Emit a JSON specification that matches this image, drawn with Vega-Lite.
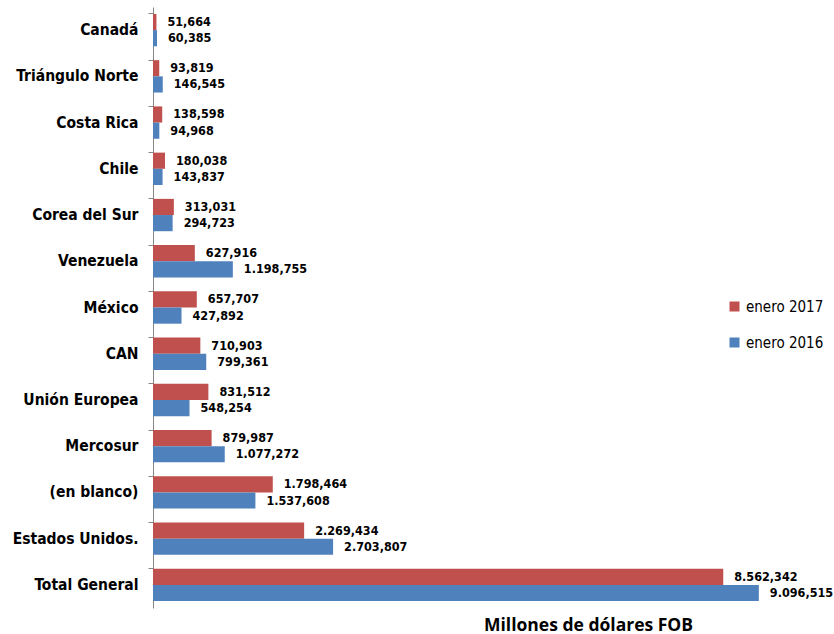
{
  "$schema": "https://vega.github.io/schema/vega-lite/v6.json",
  "width": 666,
  "height": 601,
  "autosize": {"type": "none"},
  "padding": {"left": 153, "top": 7, "right": 15, "bottom": 26},
  "background": "white",
  "config": {
    "view": {"stroke": null},
    "locale": {"number": {"decimal": ",", "thousands": ".", "grouping": [3], "currency": ["$", ""]}}
  },
  "data": {
    "values": [
      {"region": "Canadá", "periodo": "enero 2017", "valor": 51.664},
      {"region": "Canadá", "periodo": "enero 2016", "valor": 60.385},
      {"region": "Triángulo Norte", "periodo": "enero 2017", "valor": 93.819},
      {"region": "Triángulo Norte", "periodo": "enero 2016", "valor": 146.545},
      {"region": "Costa Rica", "periodo": "enero 2017", "valor": 138.598},
      {"region": "Costa Rica", "periodo": "enero 2016", "valor": 94.968},
      {"region": "Chile", "periodo": "enero 2017", "valor": 180.038},
      {"region": "Chile", "periodo": "enero 2016", "valor": 143.837},
      {"region": "Corea del Sur", "periodo": "enero 2017", "valor": 313.031},
      {"region": "Corea del Sur", "periodo": "enero 2016", "valor": 294.723},
      {"region": "Venezuela", "periodo": "enero 2017", "valor": 627.916},
      {"region": "Venezuela", "periodo": "enero 2016", "valor": 1198.755},
      {"region": "México", "periodo": "enero 2017", "valor": 657.707},
      {"region": "México", "periodo": "enero 2016", "valor": 427.892},
      {"region": "CAN", "periodo": "enero 2017", "valor": 710.903},
      {"region": "CAN", "periodo": "enero 2016", "valor": 799.361},
      {"region": "Unión Europea", "periodo": "enero 2017", "valor": 831.512},
      {"region": "Unión Europea", "periodo": "enero 2016", "valor": 548.254},
      {"region": "Mercosur", "periodo": "enero 2017", "valor": 879.987},
      {"region": "Mercosur", "periodo": "enero 2016", "valor": 1077.272},
      {"region": "(en blanco)", "periodo": "enero 2017", "valor": 1798.464},
      {"region": "(en blanco)", "periodo": "enero 2016", "valor": 1537.608},
      {"region": "Estados Unidos.", "periodo": "enero 2017", "valor": 2269.434},
      {"region": "Estados Unidos.", "periodo": "enero 2016", "valor": 2703.807},
      {"region": "Total General", "periodo": "enero 2017", "valor": 8562.342},
      {"region": "Total General", "periodo": "enero 2016", "valor": 9096.515}
    ]
  },
  "encoding": {
    "y": {
      "field": "region",
      "type": "nominal",
      "sort": null,
      "scale": {"paddingInner": 0.3, "paddingOuter": 0.15},
      "axis": {
        "title": null,
        "bandPosition": 0,
        "domainColor": "#868686",
        "tickColor": "#868686",
        "tickSize": 5,
        "labelPadding": 10,
        "labelFont": "DejaVu Sans Condensed, sans-serif",
        "labelFontSize": 15.5,
        "labelFontWeight": "bold",
        "labelColor": "#000000"
      }
    },
    "yOffset": {"field": "periodo", "type": "nominal", "sort": ["enero 2017", "enero 2016"]},
    "x": {
      "field": "valor",
      "type": "quantitative",
      "scale": {"domain": [0, 10000], "nice": false},
      "axis": {
        "title": "Millones de dólares FOB",
        "labels": false,
        "ticks": false,
        "domain": false,
        "grid": false,
        "titleFont": "Open Sans",
        "titleFontSize": 17.5,
        "titleFontWeight": "bold",
        "titleColor": "#000000",
        "titleX": 435,
        "titleY": 22,
        "titleBaseline": "alphabetic"
      }
    }
  },
  "layer": [
    {
      "mark": {"type": "bar"},
      "encoding": {
        "color": {
          "field": "periodo",
          "type": "nominal",
          "scale": {"domain": ["enero 2017", "enero 2016"], "range": ["#C0504D", "#4F81BD"]},
          "legend": {
            "title": null,
            "orient": "none",
            "legendX": 574,
            "legendY": 292,
            "symbolType": "square",
            "symbolSize": 100,
            "symbolStrokeWidth": 0,
            "rowPadding": 20,
            "labelFont": "DejaVu Sans Condensed, sans-serif",
            "labelFontSize": 15,
            "labelColor": "#000000",
            "labelOffset": 4
          }
        }
      }
    },
    {
      "mark": {
        "type": "text",
        "align": "left",
        "baseline": "middle",
        "dx": 11,
        "font": "DejaVu Sans Condensed, sans-serif",
        "fontSize": 12.5,
        "fontWeight": "bold",
        "color": "#000000"
      },
      "encoding": {
        "text": {"field": "valor", "type": "quantitative", "format": ",.3f"}
      }
    }
  ]
}
